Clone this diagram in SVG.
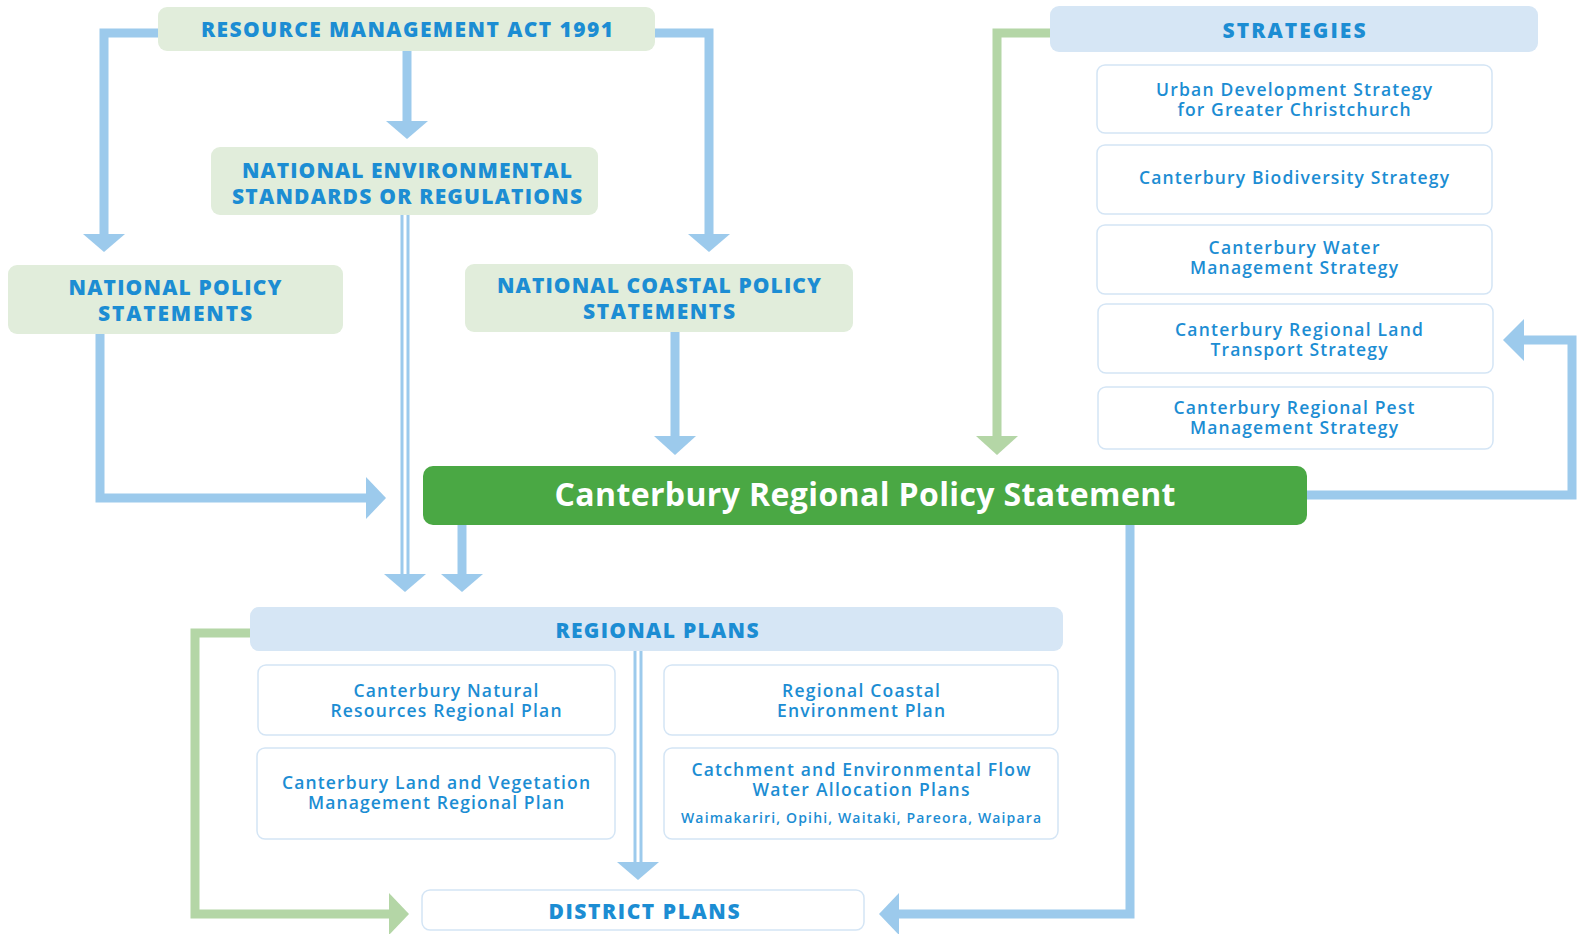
<svg xmlns="http://www.w3.org/2000/svg" width="1579" height="934" viewBox="0 0 1579 934">
<style>
.hdrG{fill:#e1eddb}
.hdrB{fill:#d6e6f5}
.box{fill:#ffffff;stroke:#d4e5f5;stroke-width:1.5}
.hdr{font-family:"Open Sans","Noto Sans",sans-serif;font-weight:800;font-size:21px;fill:#1c8dd3;text-anchor:middle}
.item{font-family:"Open Sans","Noto Sans",sans-serif;font-weight:600;font-size:17.5px;fill:#1c8dd3;text-anchor:middle}
.small{font-family:"Open Sans","Noto Sans",sans-serif;font-weight:600;font-size:14px;fill:#1c8dd3;text-anchor:middle}
.title{font-family:"Open Sans","Noto Sans",sans-serif;font-weight:700;font-size:32px;fill:#ffffff;text-anchor:middle}
.lb{fill:none;stroke:#9ccaec;stroke-width:9}
.lg{fill:none;stroke:#b4d6a6;stroke-width:9}
.dl{fill:none;stroke:#9ccaec;stroke-width:3}
.hb{fill:#9ccaec}
.hg{fill:#b4d6a6}
</style>
<rect width="1579" height="934" fill="#ffffff"/>
<g id="connectors">
  <path class="lb" d="M160 33 H104 V236"/>
  <polygon class="hb" points="83,234 125,234 104,252"/>
  <path class="lb" d="M653 33 H709 V236"/>
  <polygon class="hb" points="688,234 730,234 709,252"/>
  <path class="lb" d="M407 51 V123"/>
  <polygon class="hb" points="386,121 428,121 407,139"/>
  <path class="lb" d="M100 334 V498 H368"/>
  <polygon class="hb" points="366,477 366,519 386,498"/>
  <path class="lb" d="M675 332 V438"/>
  <polygon class="hb" points="654,436 696,436 675,455"/>
  <path class="dl" d="M402 215 V576"/>
  <path class="dl" d="M408 215 V576"/>
  <polygon class="hb" points="384,574 426,574 405,592"/>
  <path class="lb" d="M462 525 V576"/>
  <polygon class="hb" points="441,574 483,574 462,592"/>
  <path class="lb" d="M1305 495 H1572 V340 H1522"/>
  <polygon class="hb" points="1524,319 1524,361 1503,340"/>
  <path class="lb" d="M1130 525 V914 H896"/>
  <polygon class="hb" points="899,893 899,935 879,914"/>
  <path class="lg" d="M1052 33 H997 V438"/>
  <polygon class="hg" points="976,436 1018,436 997,455"/>
  <path class="lg" d="M252 633 H195 V914 H392"/>
  <polygon class="hg" points="389,893 389,935 409,914"/>
  <path class="dl" d="M635 651 V864"/>
  <path class="dl" d="M641 651 V864"/>
  <polygon class="hb" points="617,862 659,862 638,880"/>
</g>
<g id="rma">
  <rect class="hdrG" x="158" y="7" width="497" height="44" rx="9"/>
  <text class="hdr" x="407" y="36.5" textLength="412">RESOURCE MANAGEMENT ACT 1991</text>
</g>
<g id="nes">
  <rect class="hdrG" x="211" y="147" width="387" height="68" rx="9"/>
  <text class="hdr" x="407" y="177.5" textLength="330">NATIONAL ENVIRONMENTAL</text>
  <text class="hdr" x="407" y="203.5" textLength="350">STANDARDS OR REGULATIONS</text>
</g>
<g id="nps">
  <rect class="hdrG" x="8" y="265" width="335" height="69" rx="9"/>
  <text class="hdr" x="175" y="294.5" textLength="213">NATIONAL POLICY</text>
  <text class="hdr" x="175" y="320.5" textLength="154">STATEMENTS</text>
</g>
<g id="ncps">
  <rect class="hdrG" x="465" y="264" width="388" height="68" rx="9"/>
  <text class="hdr" x="659" y="292.5" textLength="324">NATIONAL COASTAL POLICY</text>
  <text class="hdr" x="659" y="318.5" textLength="152">STATEMENTS</text>
</g>
<g id="crps">
  <rect x="423" y="466" width="884" height="59" rx="10" fill="#4aa844"/>
  <text class="title" x="865" y="506" textLength="621">Canterbury Regional Policy Statement</text>
</g>
<g id="strategies">
  <rect class="hdrB" x="1050" y="6" width="488" height="46" rx="9"/>
  <text class="hdr" x="1294" y="37.5" textLength="143">STRATEGIES</text>
</g>
<g id="s-urban">
  <rect class="box" x="1097" y="65" width="395" height="68" rx="8"/>
  <text class="item" x="1294" y="96" textLength="276">Urban Development Strategy</text>
  <text class="item" x="1294" y="116" textLength="233">for Greater Christchurch</text>
</g>
<g id="s-biodiversity">
  <rect class="box" x="1097" y="145" width="395" height="69" rx="8"/>
  <text class="item" x="1294" y="184" textLength="310">Canterbury Biodiversity Strategy</text>
</g>
<g id="s-water">
  <rect class="box" x="1097" y="225" width="395" height="69" rx="8"/>
  <text class="item" x="1294" y="254" textLength="171">Canterbury Water</text>
  <text class="item" x="1294" y="274" textLength="208">Management Strategy</text>
</g>
<g id="s-transport">
  <rect class="box" x="1098" y="304" width="395" height="69" rx="8"/>
  <text class="item" x="1299" y="336" textLength="248">Canterbury Regional Land</text>
  <text class="item" x="1299" y="356" textLength="177">Transport Strategy</text>
</g>
<g id="s-pest">
  <rect class="box" x="1098" y="387" width="395" height="62" rx="8"/>
  <text class="item" x="1294" y="414" textLength="241">Canterbury Regional Pest</text>
  <text class="item" x="1294" y="434" textLength="208">Management Strategy</text>
</g>
<g id="regional-plans">
  <rect class="hdrB" x="250" y="607" width="813" height="44" rx="9"/>
  <text class="hdr" x="657" y="637.5" textLength="203">REGIONAL PLANS</text>
</g>
<g id="rp-natural">
  <rect class="box" x="258" y="665" width="357" height="70" rx="8"/>
  <text class="item" x="446" y="697" textLength="185">Canterbury Natural</text>
  <text class="item" x="446" y="717" textLength="231">Resources Regional Plan</text>
</g>
<g id="rp-land">
  <rect class="box" x="257" y="748" width="358" height="91" rx="8"/>
  <text class="item" x="436" y="789" textLength="308">Canterbury Land and Vegetation</text>
  <text class="item" x="436" y="809" textLength="256">Management Regional Plan</text>
</g>
<g id="rp-coastal">
  <rect class="box" x="664" y="665" width="394" height="70" rx="8"/>
  <text class="item" x="861" y="697" textLength="158">Regional Coastal</text>
  <text class="item" x="861" y="717" textLength="168">Environment Plan</text>
</g>
<g id="rp-catchment">
  <rect class="box" x="664" y="748" width="394" height="91" rx="8"/>
  <text class="item" x="861" y="776" textLength="339">Catchment and Environmental Flow</text>
  <text class="item" x="861" y="796" textLength="217">Water Allocation Plans</text>
  <text class="small" x="861" y="823" textLength="360">Waimakariri, Opihi, Waitaki, Pareora, Waipara</text>
</g>
<g id="district-plans">
  <rect class="box" x="422" y="890" width="442" height="40" rx="8"/>
  <text class="hdr" x="644" y="918.5" textLength="191">DISTRICT PLANS</text>
</g>
</svg>
